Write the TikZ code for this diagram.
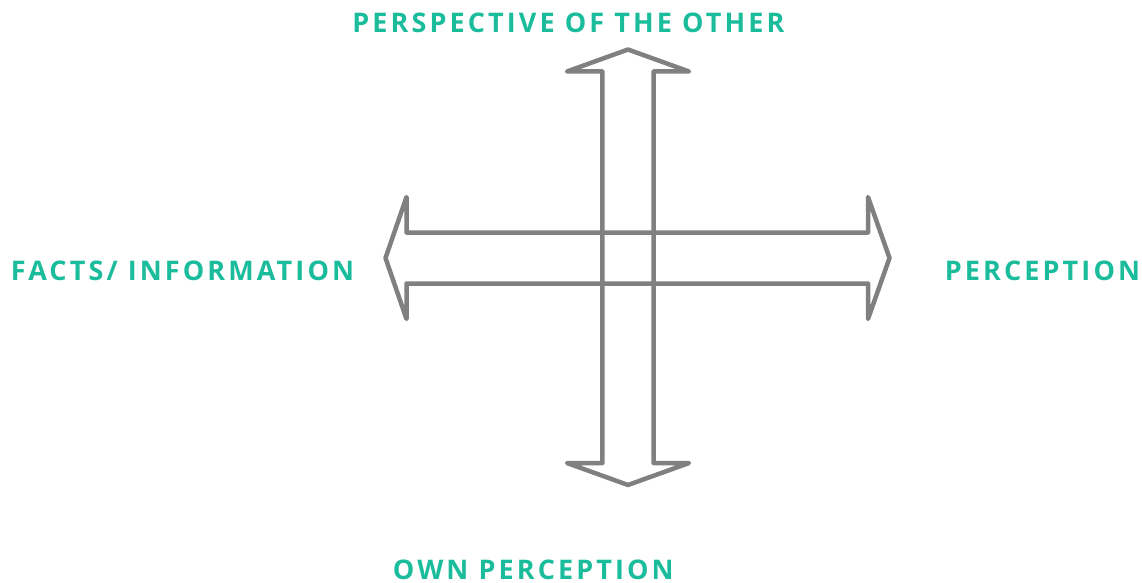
\documentclass[tikz,border=0pt]{standalone}
\usepackage{fontspec}
\usepackage{xcolor}
\usepackage{tikz}
\usetikzlibrary{positioning}
\newfontfamily\axisfont[LetterSpace=11.5]{Open Sans}
\definecolor{axisteal}{RGB}{26,188,156}
\definecolor{arrowgray}{RGB}{128,128,128}
\tikzset{
  axislabel/.style={font=\axisfont\bfseries\fontsize{27}{32}\selectfont, text=axisteal, inner sep=0pt, anchor=base},
  blockarrow/.style={draw=arrowgray, line width=4.5pt, line join=round}
}

\begin{document}
\begin{tikzpicture}[x=1pt,y=-1pt]
  \useasboundingbox (0,0) rectangle (1142,583);

  % Vertical double arrow
  \draw[blockarrow] (628,49.5) -- (689,71.5) -- (653.6,71.5) -- (653.6,463) -- (689,463)
    -- (628,485) -- (567,463) -- (602.4,463) -- (602.4,71.5) -- (567,71.5) -- cycle;

  % Horizontal double arrow
  \draw[blockarrow] (385.5,258) -- (406.5,197) -- (406.5,232.5) -- (868,232.5) -- (868,197)
    -- (889.5,258) -- (868,319) -- (868,283.5) -- (406.5,283.5) -- (406.5,319) -- cycle;

  % Labels
  \node[axislabel] (other) at (568.4,33) {PERSPECTIVE OF THE OTHER};
  \node[axislabel] (facts) at (182.5,280) {FACTS/ INFORMATION};
  \node[axislabel] (perception) at (1042.5,280) {PERCEPTION};
  \node[axislabel] (own) at (533.3,579.5) {OWN PERCEPTION};
\end{tikzpicture}
\end{document}
